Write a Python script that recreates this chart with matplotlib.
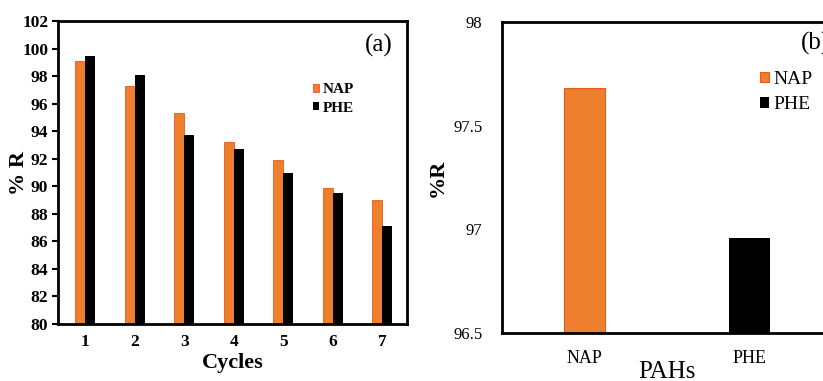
import matplotlib
matplotlib.use("Agg")
import matplotlib.pyplot as plt
import numpy as np

plt.rcParams['font.family'] = ['Liberation Serif', 'DejaVu Serif']

cycles = [1, 2, 3, 4, 5, 6, 7]
nap_cycles = [99.1, 97.3, 95.3, 93.2, 91.9, 89.9, 89.0]
phe_cycles = [99.5, 98.1, 93.7, 92.7, 91.0, 89.5, 87.1]

pahs = ["NAP", "PHE"]
pah_values = [97.68, 96.96]

orange = '#EE7F2E'
orange_edge = '#E85A1A'

fig = plt.figure(figsize=(8.23, 3.81), dpi=100)

# Panel (a)
axa = fig.add_axes([0.0705, 0.1496, 0.424, 0.795])
x = np.array(cycles)
w = 0.2
axa.bar(x - w / 2, np.array(nap_cycles) - 80, w, bottom=80, color=orange,
        edgecolor=orange_edge, linewidth=0.6, label='NAP')
axa.bar(x + w / 2, np.array(phe_cycles) - 80, w, bottom=80, color='black',
        label='PHE')
axa.set_xlim(0.45, 7.5)
axa.set_ylim(80, 102)
axa.set_yticks(np.arange(80, 103, 2))
axa.set_xticks(cycles)
axa.tick_params(axis='y', direction='out', length=4, width=1.5, labelsize=12.5,
                pad=3)
axa.tick_params(axis='x', length=0, labelsize=12.5, pad=7)
for lab in axa.get_xticklabels() + axa.get_yticklabels():
    lab.set_fontweight('bold')
for s in axa.spines.values():
    s.set_linewidth(2)
axa.set_xlabel('Cycles', fontsize=16, fontweight='bold', labelpad=2)
axa.set_ylabel('% R', fontsize=16, fontweight='bold', labelpad=-5)
axa.text(0.92, 0.92, '(a)', transform=axa.transAxes, fontsize=18,
         ha='center', va='center')
axa.legend(loc='upper left', bbox_to_anchor=(0.69, 0.84), frameon=False,
           handlelength=0.45, handleheight=0.45, handletextpad=0.2,
           labelspacing=0.35, prop={'size': 11, 'weight': 'bold'})

# Panel (b)
axb = fig.add_axes([0.61, 0.126, 0.401, 0.816])
xb = np.arange(len(pahs))
axb.bar(xb[0], pah_values[0] - 96.5, 0.25, bottom=96.5, color=orange,
        edgecolor=orange_edge, linewidth=0.8, label='NAP')
axb.bar(xb[1], pah_values[1] - 96.5, 0.25, bottom=96.5, color='black',
        label='PHE')
axb.set_xlim(-0.5, 1.5)
axb.set_ylim(96.5, 98)
axb.set_yticks([96.5, 97, 97.5, 98])
axb.set_yticklabels(['96.5', '97', '97.5', '98'])
axb.set_xticks(xb)
axb.set_xticklabels(pahs)
axb.tick_params(axis='y', length=0, labelsize=12, pad=14)
axb.tick_params(axis='x', length=0, labelsize=13, pad=12)
for s in axb.spines.values():
    s.set_linewidth(2)
axb.set_xlabel('PAHs', fontsize=18, labelpad=-4)
axb.set_ylabel('%R', fontsize=16, fontweight='bold', labelpad=4)
axb.text(0.95, 0.93, '(b)', transform=axb.transAxes, fontsize=18,
         ha='center', va='center')
axb.legend(loc='upper left', bbox_to_anchor=(0.73, 0.9), frameon=False,
           handlelength=0.45, handleheight=0.45, handletextpad=0.2,
           labelspacing=0.45, prop={'size': 14})

fig.savefig('out.png', dpi=100)
